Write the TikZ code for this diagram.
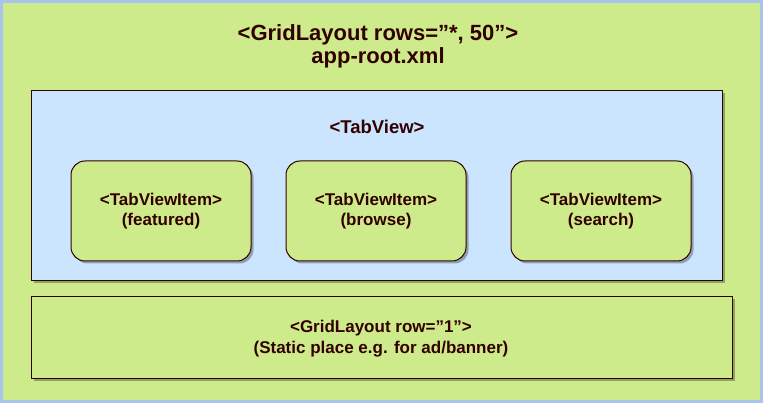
\documentclass[tikz,border=0pt]{standalone}
\usepackage{fontspec}
\setmainfont{Liberation Sans}[Ligatures=ResetAll]
\usetikzlibrary{shadows}
\definecolor{gfill}{HTML}{CDEB8B}
\definecolor{bfill}{HTML}{CCE5FF}
\definecolor{oborder}{HTML}{A9C4EB}
\definecolor{ink}{HTML}{330000}
\tikzset{
  box/.style={draw=ink, line width=1pt, drop shadow={shadow xshift=2.5pt, shadow yshift=-2.5pt, opacity=0.3, fill=black}},
  lbl/.style={text=ink, align=center, font=\bfseries},
}
\begin{document}
\begin{tikzpicture}[x=1pt,y=-1pt]
\useasboundingbox (0,0) rectangle (763,403);
\draw[fill=gfill, draw=oborder, line width=3pt] (1.5,1.5) rectangle (761.5,401.5);
\node[lbl, font=\fontsize{22}{23}\selectfont\bfseries] (title) at (378,46) {<GridLayout rows="*, 50">\\app-root.xml};
\path[box, fill=bfill] (31,91) rectangle (722,281);
\node[lbl, font=\fontsize{18.5}{20}\selectfont\bfseries] (tabview) at (377,127) {<TabView>};
\path[box, fill=gfill, rounded corners=14pt] (71,161) rectangle (251,261);
\path[box, fill=gfill, rounded corners=14pt] (286,161) rectangle (466,261);
\path[box, fill=gfill, rounded corners=14pt] (511,161) rectangle (691,261);
\node[lbl, font=\fontsize{17}{20}\selectfont\bfseries] (featured) at (161,211) {<TabViewItem>\\(featured)};
\node[lbl, font=\fontsize{17}{20}\selectfont\bfseries] (browse) at (376,211) {<TabViewItem>\\(browse)};
\node[lbl, font=\fontsize{17}{20}\selectfont\bfseries] (search) at (601,211) {<TabViewItem>\\(search)};
\path[box, fill=gfill] (31,297) rectangle (732,378);
\node[lbl, font=\fontsize{17}{21}\selectfont\bfseries] (banner) at (381,339) {<GridLayout row="1">\\(Static place e.g. for ad/banner)};
\end{tikzpicture}
\end{document}
